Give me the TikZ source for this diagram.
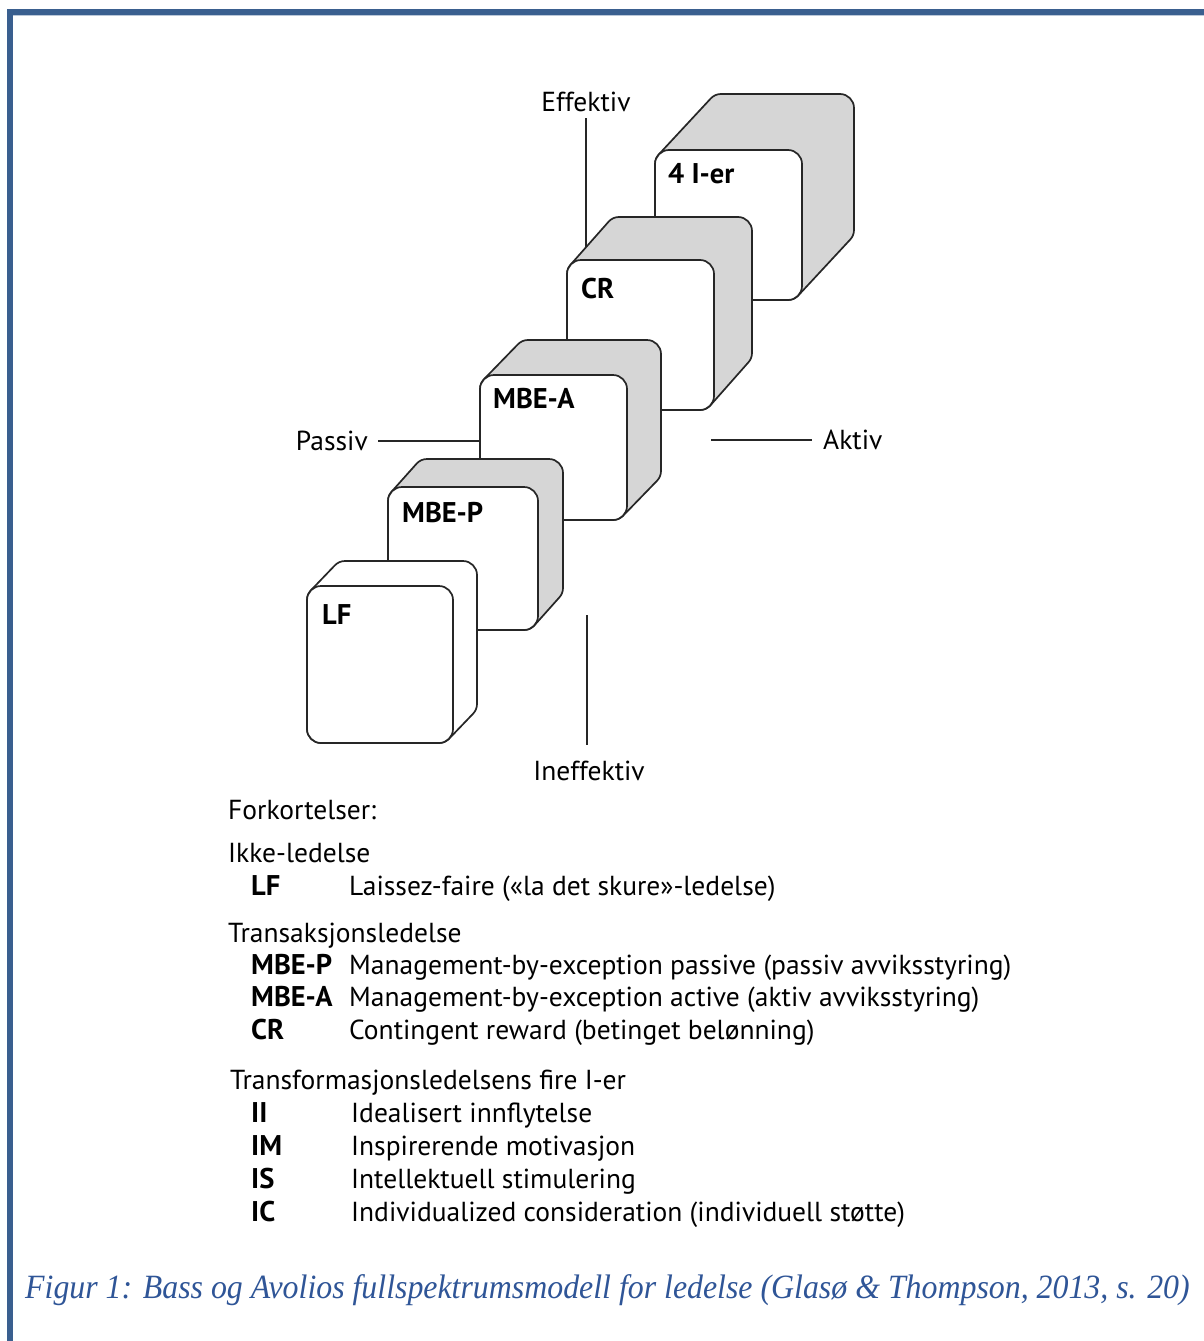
\documentclass[tikz,border=0pt]{standalone}
\usepackage{fontspec}
\setmainfont{PT Sans}
\newfontfamily\capfont{Liberation Serif}
\definecolor{framec}{RGB}{58,95,143}
\definecolor{capc}{RGB}{47,85,151}
\definecolor{shadec}{RGB}{214,214,214}
\tikzset{
  cubeline/.style={draw=black!85, line width=1.7pt, line join=round},
  lab/.style={inner sep=0pt, font=\fontsize{27.5}{32}\selectfont},
  blab/.style={inner sep=0pt, font=\fontsize{28.5}{33}\selectfont\bfseries},
  axisline/.style={draw=black!85, line width=1.8pt},
}
% #1 L, #2 T, #3 R, #4 B (image px, y down), #5 dx, #6 dy, #7 fill of side
\newcommand{\mycube}[7]{%
  \draw[cubeline, fill=#7] (#1,-#2-14) arc[start angle=180,end angle=135,radius=14pt]
    -- ++(#5,#6) arc[start angle=135,end angle=90,radius=14pt]
    -- ++({#3-#1-28},0) arc[start angle=90,end angle=0,radius=14pt]
    -- ++(0,{-(#4-#2-28)}) arc[start angle=0,end angle=-45,radius=14pt]
    -- ++(-#5,-#6) arc[start angle=-45,end angle=-90,radius=14pt]
    -- ++({-(#3-#1-28)},0) arc[start angle=-90,end angle=-180,radius=14pt]
    -- cycle;
  \draw[cubeline, fill=white, rounded corners=14pt] (#1,-#2) rectangle (#3,-#4);
}
\begin{document}
\begin{tikzpicture}[x=1pt,y=1pt]
\useasboundingbox (0,0) rectangle (1204,-1341);
\fill[white] (0,0) rectangle (1204,-1341);
% frame
\fill[framec] (7,-9) rectangle (1204,-14.5);
\fill[framec] (7,-9) rectangle (13,-1341);
\fill[framec!35] (13,-14.5) rectangle (1204,-16);

% axis labels and lines
\node[lab, anchor=base] (eff) at (586,-111) {Effektiv};
\node[lab, anchor=base] (ineff) at (589,-780) {Ineffektiv};
\node[lab, anchor=base east] (pas) at (368,-450) {Passiv};
\node[lab, anchor=base west] (akt) at (823,-449) {Aktiv};
\coordinate (effend) at (586,-250);
\coordinate (ineffend) at (587,-615);
\coordinate (pasend) at (482,-441);
\coordinate (aktend) at (711,-440);
\draw[axisline] (eff.south |- 0,-118) -- (effend);
\draw[axisline] (ineffend) -- (587,-745);
\draw[axisline] (378,-441) -- (pasend);
\draw[axisline] (aktend) -- (812,-440);

% cubes, back to front
\mycube{655}{150}{802}{300}{52}{56}{shadec}
\node[blab, anchor=base west] (c4) at (668,-183) {4 I-er};
\mycube{567}{260}{714}{410}{38}{43}{shadec}
\node[blab, anchor=base west] (ccr) at (581,-298) {CR};
\mycube{480}{375}{627}{520}{34}{35}{shadec}
\node[blab, anchor=base west] (cmbea) at (493,-408) {MBE-A};
\mycube{388}{487}{538}{630}{25}{28}{shadec}
\node[blab, anchor=base west] (cmbep) at (402,-522) {MBE-P};
\mycube{307}{586}{453}{743}{24}{25}{white}
\node[blab, anchor=base west] (clf) at (322,-624) {LF};

% legend
\node[lab, anchor=base west] (fork) at (228,-819) {Forkortelser:};
\node[lab, anchor=base west] (ikke) at (228,-862) {Ikke-ledelse};
\node[blab, anchor=base west] (kLF) at (251,-895) {LF};
\node[lab, anchor=base west] (dLF) at (349,-895) {Laissez-faire («la det skure»-ledelse)};
\node[lab, anchor=base west] (trans) at (228,-942) {Transaksjonsledelse};
\node[blab, anchor=base west] (kMP) at (251,-974) {MBE-P};
\node[lab, anchor=base west] (dMP) at (349,-974) {Management-by-exception passive (passiv avviksstyring)};
\node[blab, anchor=base west] (kMA) at (251,-1006) {MBE-A};
\node[lab, anchor=base west] (dMA) at (349,-1006) {Management-by-exception active (aktiv avviksstyring)};
\node[blab, anchor=base west] (kCR) at (251,-1039) {CR};
\node[lab, anchor=base west] (dCR) at (349,-1039) {Contingent reward (betinget belønning)};
\node[lab, anchor=base west] (tf) at (230,-1089) {Transformasjonsledelsens fire I-er};
\node[blab, anchor=base west] (kII) at (251,-1122) {II};
\node[lab, anchor=base west] (dII) at (351,-1122) {Idealisert innflytelse};
\node[blab, anchor=base west] (kIM) at (251,-1155) {IM};
\node[lab, anchor=base west] (dIM) at (351,-1155) {Inspirerende motivasjon};
\node[blab, anchor=base west] (kIS) at (251,-1188) {IS};
\node[lab, anchor=base west] (dIS) at (351,-1188) {Intellektuell stimulering};
\node[blab, anchor=base west] (kIC) at (251,-1221) {IC};
\node[lab, anchor=base west] (dIC) at (351,-1221) {Individualized consideration (individuell støtte)};

% caption
\node[inner sep=0pt, anchor=base west, text=capc] (cap) at (25,-1298)
  {\scalebox{0.937}[1]{\capfont\itshape\fontsize{34}{40}\selectfont Figur 1: Bass og Avolios fullspektrumsmodell for ledelse (Glasø \& Thompson, 2013, s. 20)}};
\end{tikzpicture}
\end{document}
